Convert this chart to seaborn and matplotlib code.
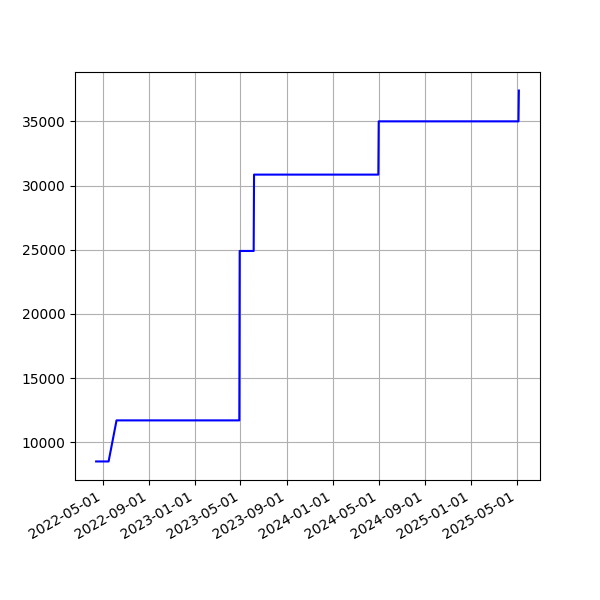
import matplotlib
matplotlib.use("Agg")
import matplotlib.pyplot as plt
import matplotlib.dates as mdates
import pandas as pd
import seaborn as sns

dates = [
    "2022-04-14", "2022-05-17", "2022-06-07", "2023-04-28", "2023-04-29",
    "2023-06-05", "2023-06-06", "2024-04-30", "2024-05-01", "2025-05-06",
    "2025-05-07",
]
values = [8500, 8500, 11700, 11700, 24900, 24900, 30850, 30850, 35000, 35000, 37400]

df = pd.DataFrame({"date": pd.to_datetime(dates), "value": values})

fig, ax = plt.subplots(figsize=(6, 6), dpi=100)
sns.lineplot(data=df, x="date", y="value", color="blue", linewidth=1.5, ax=ax)
ax.set_xlabel("")
ax.set_ylabel("")
ax.grid(True)
ax.xaxis.set_major_locator(mdates.MonthLocator(bymonth=[1, 5, 9]))
ax.xaxis.set_major_formatter(mdates.DateFormatter("%Y-%m-%d"))
fig.autofmt_xdate()

plt.savefig("out.png")
plt.close()
